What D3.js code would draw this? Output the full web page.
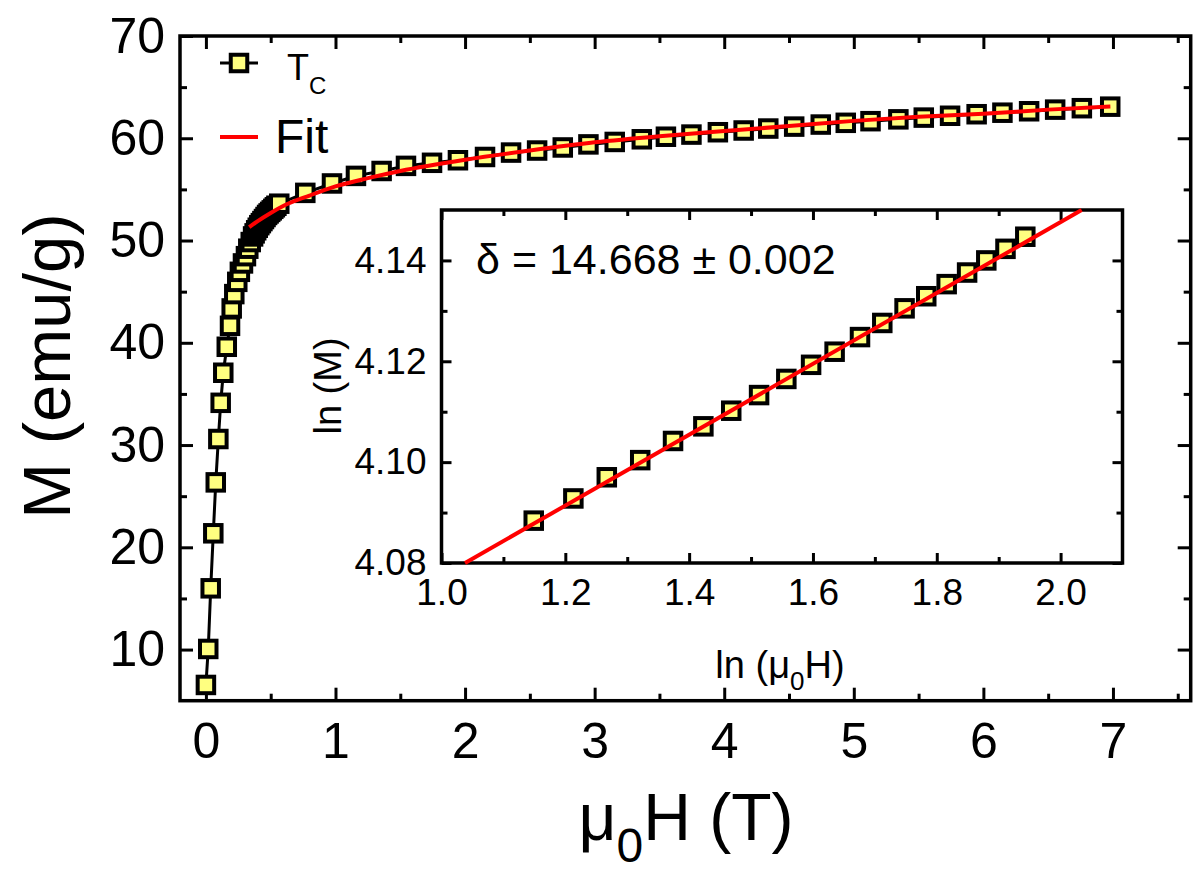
<!DOCTYPE html>
<html>
<head>
<meta charset="utf-8">
<script src="https://cdn.jsdelivr.net/npm/d3@7"></script>
<style>
  body { margin: 0; background: #fff; }
  svg { display: block; font-family: Arial, "Liberation Sans", sans-serif; }
</style>
</head>
<body>
<div id="chart"></div>
<script>
// ============================================================================
// DATA
// ============================================================================

// M(H) isotherm at Tc: field in tesla, magnetisation in emu/g
const fieldT = [0.000, 0.018, 0.037, 0.057, 0.076, 0.096, 0.114, 0.134, 0.161, 0.186,
    0.199, 0.219, 0.242, 0.262, 0.286, 0.309, 0.327, 0.346, 0.364, 0.376,
    0.388, 0.400, 0.412, 0.424, 0.436, 0.448, 0.460, 0.472, 0.484, 0.496,
    0.508, 0.520, 0.532, 0.544, 0.566, 0.767,
    0.973, 1.158, 1.356, 1.544, 1.745, 1.945, 2.154, 2.355, 2.556, 2.754,
    2.952, 3.155, 3.364, 3.550, 3.747, 3.951, 4.150, 4.340, 4.540, 4.745,
    4.938, 5.129, 5.344, 5.540, 5.743, 5.948, 6.147, 6.353, 6.554, 6.760, 6.979];
const magEmu = [6.54, 10.06, 15.99, 21.37, 26.35, 30.59, 34.13, 37.07, 39.61, 41.66,
    43.36, 44.76, 45.96, 46.94, 47.76, 48.47, 49.2, 49.85, 50.4, 50.7,
    51.0, 51.25, 51.5, 51.7, 51.9, 52.1, 52.3, 52.5, 52.65, 52.8,
    52.95, 53.1, 53.25, 53.4, 53.6, 54.66,
    55.58, 56.32, 56.8, 57.3, 57.6, 57.85, 58.17, 58.6, 58.8, 59.1,
    59.4, 59.64, 59.90, 60.15, 60.36, 60.59, 60.76, 60.95, 61.14, 61.34,
    61.51, 61.67, 61.85, 62.02, 62.20, 62.35, 62.50, 62.64, 62.80, 62.94, 63.09];

// red fit curve in the main panel
const fitFieldT = [0.334, 0.4, 0.5, 0.6, 0.8, 1.0, 1.25, 1.5, 2.0, 2.5, 3.0, 3.5, 4.0, 4.5, 5.0, 5.5, 6.0, 6.5, 6.98];
const fitMagEmu = [51.3, 51.9, 52.7, 53.4, 54.4, 55.3, 56.1, 56.8, 57.9, 58.8, 59.6, 60.2, 60.7, 61.2, 61.7, 62.1, 62.4, 62.8, 63.1];

// inset: ln(M) vs ln(mu0 H)
const lnField = [1.149, 1.213, 1.267, 1.321, 1.374, 1.423, 1.468, 1.513, 1.557, 1.597,
    1.635, 1.676, 1.712, 1.748, 1.783, 1.816, 1.849, 1.880, 1.911, 1.943];
const lnMag = [4.0884, 4.0928, 4.0970, 4.1004, 4.1042, 4.1071, 4.1102, 4.1133, 4.1165, 4.1193,
    4.1219, 4.1248, 4.1276, 4.1305, 4.1329, 4.1353, 4.1376, 4.1400, 4.1423, 4.1447];
const lnFitX = [1.038, 2.034];
const lnFitY = [4.080, 4.150];

// ticks
const mainXTicks = [0, 1, 2, 3, 4, 5, 6, 7];
const mainXMinor = [0.5, 1.5, 2.5, 3.5, 4.5, 5.5, 6.5, 7.5];
const mainYTicks = [10, 20, 30, 40, 50, 60, 70];
const mainYMinor = [15, 25, 35, 45, 55, 65];
const insetXTicks = [1.0, 1.2, 1.4, 1.6, 1.8, 2.0];
const insetXMinor = [1.1, 1.3, 1.5, 1.7, 1.9];
const insetYTicks = [4.08, 4.10, 4.12, 4.14];
const insetYMinor = [4.09, 4.11, 4.13];

// ============================================================================
// SVG SETUP
// ============================================================================
const W = 1196, H = 876;
const svg = d3.select('#chart')
    .append('svg')
    .attr('width', W)
    .attr('height', H);

const yellow = '#ffff80';

// main panel scales
const x = d3.scaleLinear().domain([-0.2, 7.6]).range([180, 1190.7]);
const y = d3.scaleLinear().domain([5, 70]).range([700.7, 36]);

// inset scales
const xi = d3.scaleLinear().domain([1.0, 2.1]).range([441.5, 1122.5]);
const yi = d3.scaleLinear().domain([4.08, 4.15]).range([563, 210]);

// ============================================================================
// AXES HELPER - box with inward ticks on all four sides
// ============================================================================
function boxAxes(sx, sy, o) {
    const g = svg.append('g');
    const [x0, x1] = sx.range();
    const [y0, y1] = sy.range();

    const style = sel => {
        sel.select('.domain').remove();
        sel.selectAll('.tick line').attr('stroke-width', 3);
        sel.attr('font-family', 'Arial, "Liberation Sans", sans-serif')
            .attr('font-size', o.fontSize);
    };

    const add = (axis, tr) => g.append('g').attr('transform', tr).call(axis).call(style);

    // bottom
    add(d3.axisBottom(sx).tickValues(o.xTicks).tickSize(-o.major).tickPadding(o.xPad).tickFormat(o.xFmt), `translate(0,${y0})`);
    add(d3.axisBottom(sx).tickValues(o.xMinor).tickSize(-o.minor).tickFormat(''), `translate(0,${y0})`);
    // top
    add(d3.axisTop(sx).tickValues(o.xTicks).tickSize(-o.major).tickFormat(''), `translate(0,${y1})`);
    add(d3.axisTop(sx).tickValues(o.xMinor).tickSize(-o.minor).tickFormat(''), `translate(0,${y1})`);
    // left
    add(d3.axisLeft(sy).tickValues(o.yTicks).tickSize(-o.major).tickPadding(o.yPad).tickFormat(o.yFmt), `translate(${x0},0)`);
    add(d3.axisLeft(sy).tickValues(o.yMinor).tickSize(-o.minor).tickFormat(''), `translate(${x0},0)`);
    // right
    add(d3.axisRight(sy).tickValues(o.yTicks).tickSize(-o.major).tickFormat(''), `translate(${x1},0)`);
    add(d3.axisRight(sy).tickValues(o.yMinor).tickSize(-o.minor).tickFormat(''), `translate(${x1},0)`);

    // frame
    g.append('rect')
        .attr('x', x0).attr('y', y1)
        .attr('width', x1 - x0).attr('height', y0 - y1)
        .attr('fill', 'none')
        .attr('stroke', '#000')
        .attr('stroke-width', 3.5);
    return g;
}

// square markers, black outline, pale yellow fill
function squares(g, xs, ys, sx, sy) {
    g.selectAll(null)
        .data(d3.zip(xs, ys))
        .join('rect')
        .attr('x', d => sx(d[0]) - 8.25)
        .attr('y', d => sy(d[1]) - 8.25)
        .attr('width', 16.5)
        .attr('height', 16.5)
        .attr('fill', yellow)
        .attr('stroke', '#000')
        .attr('stroke-width', 4);
}

// ============================================================================
// MAIN PANEL
// ============================================================================
boxAxes(x, y, {
    xTicks: mainXTicks, xMinor: mainXMinor, yTicks: mainYTicks, yMinor: mainYMinor,
    major: 13, minor: 7, fontSize: 50, xPad: 22, yPad: 15,
    xFmt: d3.format('d'), yFmt: d3.format('d')
});

const line = d3.line().x(d => x(d[0])).y(d => y(d[1]));

const mainG = svg.append('g');
mainG.append('path')
    .datum(d3.zip(fieldT, magEmu))
    .attr('fill', 'none')
    .attr('stroke', '#000')
    .attr('stroke-width', 3)
    .attr('d', line);

squares(mainG, fieldT, magEmu, x, y);

mainG.append('path')
    .datum(d3.zip(fitFieldT, fitMagEmu))
    .attr('fill', 'none')
    .attr('stroke', '#ff0000')
    .attr('stroke-width', 4)
    .attr('d', line.curve(d3.curveMonotoneX));

// axis labels
svg.append('text')
    .attr('x', 686)
    .attr('y', 840)
    .attr('text-anchor', 'middle')
    .style('font-size', '66px')
    .call(t => {
        t.append('tspan').text('\u03bc');
        t.append('tspan').attr('dy', 22).style('font-size', '48px').text('0');
        t.append('tspan').attr('dy', -22).text('H (T)');
    });

svg.append('text')
    .attr('transform', 'translate(70,366) rotate(-90)')
    .attr('text-anchor', 'middle')
    .style('font-size', '67px')
    .text('M (emu/g)');

// legend
const legend = svg.append('g');
legend.append('line')
    .attr('x1', 220).attr('x2', 258)
    .attr('y1', 63).attr('y2', 63)
    .attr('stroke', '#000').attr('stroke-width', 3);
squares(legend, [0], [0], () => 239, () => 63);
legend.append('text')
    .attr('x', 287).attr('y', 80)
    .style('font-size', '36px')
    .call(t => {
        t.append('tspan').text('T');
        t.append('tspan').attr('dy', 14).style('font-size', '24px').text('C');
    });
legend.append('line')
    .attr('x1', 220).attr('x2', 258)
    .attr('y1', 137).attr('y2', 137)
    .attr('stroke', '#ff0000').attr('stroke-width', 4);
legend.append('text')
    .attr('x', 275).attr('y', 153)
    .style('font-size', '48px')
    .text('Fit');

// ============================================================================
// INSET
// ============================================================================
svg.append('rect')
    .attr('x', xi.range()[0]).attr('y', yi.range()[1])
    .attr('width', xi.range()[1] - xi.range()[0])
    .attr('height', yi.range()[0] - yi.range()[1])
    .attr('fill', '#fff');

boxAxes(xi, yi, {
    xTicks: insetXTicks, xMinor: insetXMinor, yTicks: insetYTicks, yMinor: insetYMinor,
    major: 10, minor: 6, fontSize: 37, xPad: 16, yPad: 15,
    xFmt: d3.format('.1f'), yFmt: d3.format('.2f')
});

const insetG = svg.append('g');
squares(insetG, lnField, lnMag, xi, yi);

insetG.append('path')
    .datum(d3.zip(lnFitX, lnFitY))
    .attr('fill', 'none')
    .attr('stroke', '#ff0000')
    .attr('stroke-width', 4)
    .attr('d', d3.line().x(d => xi(d[0])).y(d => yi(d[1])));

insetG.append('text')
    .attr('x', 476).attr('y', 274)
    .style('font-size', '43px')
    .text('\u03b4 = 14.668 \u00b1 0.002');

insetG.append('text')
    .attr('x', 780).attr('y', 678)
    .attr('text-anchor', 'middle')
    .style('font-size', '38px')
    .call(t => {
        t.append('tspan').text('ln (\u03bc');
        t.append('tspan').attr('dy', 12).style('font-size', '26px').text('0');
        t.append('tspan').attr('dy', -12).text('H)');
    });

insetG.append('text')
    .attr('transform', 'translate(341,386) rotate(-90)')
    .attr('text-anchor', 'middle')
    .style('font-size', '38px')
    .text('ln (M)');
</script>
</body>
</html>
